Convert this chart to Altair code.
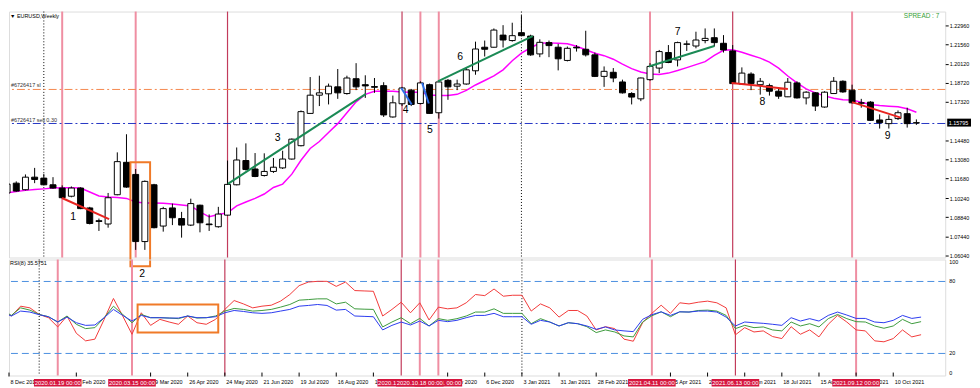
import altair as alt
import pandas as pd

# ---------------- data (EURUSD weekly, bars indexed from 8 Dec 2019) ----------------
opens = [1.1063, 1.1135, 1.1087, 1.1179, 1.1172, 1.1123, 1.1099, 1.1039, 1.1099, 1.0953,
         1.0859, 1.0835, 1.1050, 1.1288, 1.1199, 1.0706, 1.1123, 1.0820, 1.0953, 1.0875,
         1.0827, 1.0973, 1.0835, 1.0815, 1.0900, 1.1123, 1.1301, 1.1239, 1.1191, 1.1221,
         1.1247, 1.1312, 1.1410, 1.1647, 1.1781, 1.1791, 1.1842, 1.1793, 1.1902, 1.1858,
         1.1844, 1.1851, 1.1621, 1.1718, 1.1818, 1.1720, 1.1858, 1.1652, 1.1890, 1.1847,
         1.1863, 1.1960, 1.2133, 1.2133, 1.2222, 1.2182, 1.2240, 1.2215, 1.2084, 1.2167,
         1.2133, 1.2036, 1.2133, 1.2118, 1.2077, 1.1919, 1.1949, 1.1878, 1.1793, 1.1754,
         1.1895, 1.1980, 1.2094, 1.2040, 1.2157, 1.2142, 1.2182, 1.2203, 1.2162, 1.2106,
         1.1863, 1.1936, 1.1858, 1.1851, 1.1810, 1.1769, 1.1871, 1.1761, 1.1798, 1.1694,
         1.1793, 1.1883, 1.1818, 1.1725, 1.1730, 1.1599, 1.1572, 1.1609, 1.1645, 1.1576]
highs = [1.1201, 1.1148, 1.1199, 1.1247, 1.1203, 1.1179, 1.1119, 1.1111, 1.1104, 1.0961,
         1.0875, 1.1063, 1.1361, 1.1494, 1.1239, 1.1155, 1.1130, 1.0961, 1.0985, 1.0924,
         1.1021, 1.0977, 1.0905, 1.0961, 1.1301, 1.1397, 1.1427, 1.1356, 1.1354, 1.1320,
         1.1373, 1.1463, 1.1669, 1.1914, 1.1924, 1.1866, 1.1973, 1.1924, 1.2016, 1.1927,
         1.1907, 1.1876, 1.1778, 1.1842, 1.1827, 1.1883, 1.1866, 1.1883, 1.1900, 1.1895,
         1.1985, 1.2174, 1.2182, 1.2271, 1.2295, 1.2313, 1.2368, 1.2225, 1.2191, 1.2182,
         1.2157, 1.2138, 1.2149, 1.2254, 1.2094, 1.1992, 1.1980, 1.1895, 1.1803, 1.1910,
         1.2016, 1.2113, 1.2149, 1.2174, 1.2182, 1.2247, 1.2271, 1.2271, 1.2222, 1.2149,
         1.1985, 1.1949, 1.1907, 1.1866, 1.1827, 1.1907, 1.1883, 1.1810, 1.1803, 1.1810,
         1.1914, 1.1890, 1.1858, 1.1754, 1.1737, 1.1640, 1.1633, 1.1669, 1.1689, 1.1603]
lows = [1.1048, 1.1072, 1.1082, 1.1135, 1.1119, 1.1094, 1.1024, 1.1031, 1.0944, 1.0832,
        1.0784, 1.0808, 1.1046, 1.1101, 1.0645, 1.0645, 1.0803, 1.0779, 1.0827, 1.0735,
        1.0820, 1.0774, 1.0784, 1.0808, 1.0895, 1.1119, 1.1228, 1.1179, 1.1184, 1.1210,
        1.1239, 1.1308, 1.1405, 1.1645, 1.1701, 1.1713, 1.1754, 1.1785, 1.1818, 1.1761,
        1.1798, 1.1621, 1.1616, 1.1701, 1.1701, 1.1713, 1.1645, 1.1609, 1.1747, 1.1818,
        1.1858, 1.1931, 1.2065, 1.2131, 1.2131, 1.2174, 1.2215, 1.2070, 1.2060, 1.2060,
        1.1963, 1.2029, 1.2101, 1.2065, 1.1914, 1.1842, 1.1876, 1.1793, 1.1713, 1.1737,
        1.1887, 1.1943, 1.2016, 1.1992, 1.2106, 1.2125, 1.2162, 1.2138, 1.2094, 1.1863,
        1.1858, 1.1818, 1.1785, 1.1778, 1.1754, 1.1767, 1.1756, 1.1713, 1.1665, 1.1689,
        1.1791, 1.1798, 1.1720, 1.1689, 1.1592, 1.1536, 1.1536, 1.1599, 1.1543, 1.1563]
closes = [1.1128, 1.1077, 1.1179, 1.1162, 1.1123, 1.1099, 1.1028, 1.1099, 1.0948, 1.0839,
          1.0854, 1.1028, 1.1293, 1.1106, 1.0706, 1.1148, 1.0808, 1.0948, 1.0881, 1.0827,
          1.0985, 1.0844, 1.0830, 1.0908, 1.1126, 1.1305, 1.1235, 1.1184, 1.1221, 1.1252,
          1.1312, 1.1458, 1.1660, 1.1781, 1.1798, 1.1847, 1.1798, 1.1907, 1.1842, 1.1849,
          1.1839, 1.1636, 1.1725, 1.1834, 1.1713, 1.1871, 1.1647, 1.1878, 1.1842, 1.1863,
          1.1967, 1.2120, 1.2118, 1.2259, 1.2186, 1.2218, 1.2218, 1.2077, 1.2169, 1.2145,
          1.2048, 1.2125, 1.2128, 1.2077, 1.1919, 1.1956, 1.1907, 1.1798, 1.1767, 1.1907,
          1.1992, 1.2101, 1.2021, 1.2167, 1.2155, 1.2186, 1.2198, 1.2167, 1.2113, 1.1866,
          1.1943, 1.1866, 1.1883, 1.1810, 1.1774, 1.1876, 1.1761, 1.1803, 1.1701, 1.1803,
          1.1883, 1.1805, 1.1725, 1.1722, 1.1596, 1.1579, 1.1603, 1.1652, 1.1572, 1.15795]
ma_line = [1.1063, 1.1073, 1.1082, 1.1088, 1.1093, 1.1099, 1.1101, 1.1101, 1.1099, 1.1070,
           1.1041, 1.1033, 1.1030, 1.1023, 1.0997, 1.0990, 1.0990, 1.0988, 1.0982, 1.0975,
           1.0968, 1.0924, 1.0888, 1.0905, 1.0917, 1.0968, 1.0997, 1.1023, 1.1055, 1.1103,
           1.1128, 1.1201, 1.1303, 1.1390, 1.1441, 1.1507, 1.1572, 1.1652, 1.1732, 1.1787,
           1.1810, 1.1810, 1.1809, 1.1805, 1.1803, 1.1803, 1.1783, 1.1778, 1.1778, 1.1787,
           1.1816, 1.1856, 1.1889, 1.1922, 1.1967, 1.2034, 1.2089, 1.2129, 1.2162, 1.2165,
           1.2162, 1.2158, 1.2140, 1.2115, 1.2089, 1.2071, 1.2045, 1.2009, 1.1976, 1.1951,
           1.1936, 1.1933, 1.1943, 1.1962, 1.1983, 1.2005, 1.2027, 1.2074, 1.2111, 1.2115,
           1.2096, 1.2074, 1.2053, 1.2024, 1.1980, 1.1922, 1.1871, 1.1827, 1.1798, 1.1776,
           1.1758, 1.1748, 1.1745, 1.1729, 1.1713, 1.1705, 1.1700, 1.1696, 1.1681, 1.1656]
rsi_red = [55.8, 51.2, 59.4, 58.0, 52.5, 49.8, 42.1, 51.2, 36.8, 30.5,
           31.9, 48.4, 65.8, 51.2, 36.0, 53.9, 43.4, 48.4, 46.2, 44.3,
           51.2, 45.6, 44.3, 48.4, 56.7, 64.1, 61.3, 58.0, 59.4, 60.2,
           63.6, 69.1, 76.5, 79.5, 80.1, 80.1, 75.9, 79.5, 72.4, 72.1,
           71.8, 51.2, 56.7, 62.7, 53.9, 62.2, 47.9, 58.6, 57.2, 58.0,
           62.2, 69.1, 68.2, 73.7, 67.7, 68.5, 68.5, 55.3, 61.3, 58.0,
           50.3, 55.8, 55.8, 51.2, 39.6, 42.3, 40.7, 31.9, 30.2, 45.6,
           53.4, 60.2, 53.4, 62.2, 61.3, 62.7, 63.6, 62.2, 58.0, 35.5,
           41.5, 37.9, 38.8, 34.1, 32.4, 42.3, 36.0, 39.6, 33.8, 44.3,
           51.7, 46.2, 39.6, 38.8, 30.5, 29.7, 32.4, 39.6, 33.8, 35.6]
rsi_green = [56.7, 51.7, 58.0, 56.1, 52.5, 50.6, 46.2, 51.2, 44.3, 40.7,
             41.5, 49.8, 59.4, 52.5, 45.6, 52.5, 49.8, 49.8, 49.5, 49.0,
             51.2, 49.5, 49.8, 51.2, 55.3, 57.5, 56.7, 55.3, 55.8, 56.7,
             58.6, 60.8, 64.4, 64.9, 65.5, 65.5, 61.3, 62.7, 57.2, 56.9,
             56.7, 42.1, 46.2, 49.8, 44.8, 49.2, 42.9, 49.0, 47.6, 49.0,
             51.2, 54.5, 54.5, 57.2, 53.4, 53.4, 53.4, 44.8, 49.0, 46.2,
             42.9, 45.6, 44.8, 42.3, 37.4, 39.6, 37.9, 34.6, 33.8, 46.2,
             51.4, 54.7, 50.6, 54.7, 54.5, 55.8, 56.1, 55.3, 51.7, 40.7,
             43.4, 41.5, 42.1, 39.6, 38.8, 46.2, 42.9, 44.8, 42.1, 49.0,
             52.5, 49.0, 46.5, 46.2, 42.9, 41.0, 42.9, 48.4, 44.8, 46.5]
rsi_blue = [54.5, 51.2, 55.3, 54.5, 52.3, 50.6, 46.2, 50.3, 45.6, 43.4,
            43.7, 49.8, 56.7, 51.7, 47.0, 51.7, 49.8, 49.8, 49.5, 49.5,
            51.2, 49.8, 49.8, 50.6, 53.9, 55.8, 55.0, 53.9, 53.4, 53.9,
            55.3, 56.7, 59.4, 60.0, 60.8, 60.0, 56.1, 56.7, 51.2, 50.9,
            50.6, 39.6, 43.4, 46.2, 43.7, 47.0, 42.9, 47.6, 46.5, 47.6,
            49.8, 51.7, 51.7, 53.4, 50.6, 50.6, 50.6, 44.3, 47.6, 46.2,
            42.9, 45.6, 44.8, 42.9, 40.1, 42.1, 39.6, 38.8, 38.2, 48.4,
            52.3, 54.7, 51.7, 54.7, 54.5, 55.3, 55.3, 54.5, 50.3, 42.9,
            46.2, 45.6, 45.1, 44.3, 43.4, 49.8, 47.0, 49.0, 47.0, 51.7,
            54.5, 52.0, 49.2, 49.2, 46.2, 45.6, 47.6, 51.7, 49.2, 50.3]

date_idx = list(range(0, 100, 4))
date_labels = ["8 Dec 2019", "5 Jan 2020", "2 Feb 2020", "1 Mar 2020", "29 Mar 2020",
               "26 Apr 2020", "24 May 2020", "21 Jun 2020", "19 Jul 2020", "16 Aug 2020",
               "13 Sep 2020", "11 Oct 2020", "8 Nov 2020", "6 Dec 2020", "3 Jan 2021",
               "31 Jan 2021", "28 Feb 2021", "28 Mar 2021", "25 Apr 2021", "23 May 2021",
               "20 Jun 2021", "18 Jul 2021", "15 Aug 2021", "12 Sep 2021", "10 Oct 2021"]
# date labels completely hidden behind the red vertical-line labels in the reference
date_hidden = [4, 12, 44, 68]
price_ticks = [1.2296, 1.2156, 1.2012, 1.1872, 1.1732, 1.1448, 1.1308, 1.1168,
               1.1024, 1.0884, 1.0744, 1.0604]
current_price = 1.15795

event_idx = [6, 14, 24, 43, 45, 47, 70, 79, 92]
event_kind = ["light", "light", "dark", "dark", "light", "light", "light", "dark", "light"]
event_text = ["2020.01.19 00:00", "2020.03.15 00:00", "", "2020.10.04 00:00",
              "2020.10.18 00:00", "2020.11.01 00:00", "2021.04.11 00:00",
              "2021.06.13 00:00", "2021.09.12 00:00"]
event_label_order = [6, 14, 43, 47, 45, 70, 79, 92]
separator_idx = [4, 56]

order_prices = [1.1823, 1.1573]
order_texts = ["#6726417 sl", "#6726417 sell 0.30"]
order_colors = ["#f5874d", "#2536c4"]

tl_i1 = [5.98, 24.04, 42.92, 45.19, 46.9, 69.87, 78.88, 91.99]
tl_p1 = [1.1026, 1.1130, 1.1834, 1.1871, 1.1883, 1.1992, 1.1871, 1.1730]
tl_i2 = [11.11, 39.07, 44.05, 45.91, 57.23, 77.0, 85.01, 97.3]
tl_p2 = [1.0871, 1.1791, 1.1713, 1.1720, 1.2215, 1.2142, 1.1827, 1.1616]
tl_col = ["#e8231f", "#1b8a55", "#2f6fe8", "#2f6fe8", "#1b8a55", "#1b8a55", "#e8231f", "#e8231f"]

num_text = ["1", "3", "4", "5", "6", "7", "8", "9"]
num_i = [7.19, 29.45, 43.4, 46.03, 49.33, 73.0, 82.23, 95.87]
num_p = [1.0888, 1.1465, 1.1670, 1.1525, 1.2058, 1.2247, 1.1730, 1.1483]

box_main = {"i1": 13.43, "i2": 15.57, "p1": 1.1288, "p2": 1.0524}
box_rsi = {"i1": 14.6, "i2": 23.29, "r1": 60.8, "r2": 37.4}
label2 = {"i": 15.1, "r": 85.9}

# ---------------- layout / styles ----------------
W, H_MAIN, H_RSI = 944, 248, 117
X_DOM = [0.748, 101.6]
P_DOM = [1.0589, 1.2395]
R_DOM = [1.6, 98.3]
FONT = "Liberation Sans"
PINK, DARK = "#ef8ea2", "#c23b5b"
ORANGE = "#f07a28"
LABEL_RED = "#d6163f"

xs = alt.Scale(domain=X_DOM, nice=False, zero=False)
ps = alt.Scale(domain=P_DOM, nice=False, zero=False)
rs = alt.Scale(domain=R_DOM, nice=False, zero=False)
price_axis = alt.Axis(orient="right", values=price_ticks, format=".5f", labelFontSize=5.5,
                      labelFont=FONT, labelColor="#000000", tickSize=3, tickColor="#000000",
                      domain=False, grid=False, title=None, labelPadding=1)


def X(f):
    return alt.X(f"{f}:Q", scale=xs, axis=None)


def PY(f):
    return alt.Y(f"{f}:Q", scale=ps, axis=price_axis)


def RY(f):
    return alt.Y(f"{f}:Q", scale=rs, axis=None)


n = len(opens)
cdf = pd.DataFrame({"i": list(range(n)), "o": opens, "h": highs, "l": lows, "c": closes,
                    "ma": ma_line, "r1": rsi_red, "r2": rsi_green, "r3": rsi_blue})
cdf["fillc"] = ["#ffffff" if c >= o else "#000000" for o, c in zip(opens, closes)]

ev = pd.DataFrame({"i": event_idx, "kind": event_kind, "t": event_text})
sep = pd.DataFrame({"i": separator_idx})


def vlines():
    return [
        alt.Chart(ev[ev.kind == "light"]).mark_rule(color=PINK, strokeWidth=2).encode(x=X("i")),
        alt.Chart(ev[ev.kind == "dark"]).mark_rule(color=DARK, strokeWidth=1.2).encode(x=X("i")),
        alt.Chart(sep).mark_rule(color="#000000", strokeWidth=1, strokeDash=[1, 2]).encode(x=X("i")),
    ]


# ---------------- main (price) panel ----------------
odf = pd.DataFrame({"p": order_prices, "t": order_texts, "col": order_colors})
tldf = pd.DataFrame({"i1": tl_i1, "p1": tl_p1, "i2": tl_i2, "p2": tl_p2, "col": tl_col})
numdf = pd.DataFrame({"i": num_i, "p": num_p, "t": num_text})
bmdf = pd.DataFrame([box_main])
pp = (P_DOM[1] - P_DOM[0]) / H_MAIN
curdf = pd.DataFrame({"p": [current_price], "top": [current_price + 4 * pp],
                      "bot": [current_price - 4 * pp], "t": [f"{current_price:.5f}"]})

main_layers = vlines() + [
    alt.Chart(odf).mark_rule(strokeWidth=1, strokeDash=[8, 3, 2, 3]).encode(
        y=PY("p"), color=alt.Color("col:N", scale=None)),
    alt.Chart(odf).mark_text(align="left", baseline="bottom", dy=-1, fontSize=5.5, color="#333333").encode(
        x=alt.value(2), y=PY("p"), text="t:N"),
    alt.Chart(cdf).mark_line(color="#ff00ff", strokeWidth=1.5, clip=True).encode(x=X("i"), y=PY("ma")),
    alt.Chart(cdf).mark_rule(color="#000000", strokeWidth=1, clip=True).encode(x=X("i"), y=PY("l"), y2="h"),
    alt.Chart(cdf).mark_bar(width=6, stroke="#000000", strokeWidth=1, clip=True).encode(
        x=X("i"), y=PY("o"), y2="c", fill=alt.Fill("fillc:N", scale=None)),
    alt.Chart(tldf).mark_rule(strokeWidth=2).encode(
        x=X("i1"), x2="i2", y=PY("p1"), y2="p2", color=alt.Color("col:N", scale=None)),
    alt.Chart(numdf).mark_text(fontSize=10.5, color="#000000", baseline="middle").encode(
        x=X("i"), y=PY("p"), text="t:N"),
    alt.Chart(bmdf).mark_rect(fill="transparent", stroke=ORANGE, strokeWidth=2).encode(
        x=X("i1"), x2="i2", y=PY("p1"), y2="p2"),
    alt.Chart(pd.DataFrame({"t": ["▼ EURUSD,Weekly"]})).mark_text(
        align="left", baseline="middle", fontSize=5.5, color="#000000").encode(
        x=alt.value(1), y=alt.value(4), text="t:N"),
    alt.Chart(pd.DataFrame({"t": ["SPREAD : 7"]})).mark_text(
        align="right", baseline="middle", fontSize=6.5, color="#33a033").encode(
        x=alt.value(938), y=alt.value(4), text="t:N"),
    alt.Chart(curdf).mark_rect(color="#000000").encode(
        x=alt.value(W + 2), x2=alt.value(W + 26), y=PY("top"), y2="bot"),
    alt.Chart(curdf).mark_text(align="left", baseline="middle", fontSize=5.5, color="#ffffff").encode(
        x=alt.value(W + 3.5), y=PY("p"), text="t:N"),
]
main = alt.layer(*main_layers).properties(width=W, height=H_MAIN)

# ---------------- RSI panel ----------------
lvl = pd.DataFrame({"v": [80, 20], "t": ["80", "20"]})
brdf = pd.DataFrame([box_rsi])
l2df = pd.DataFrame({"i": [label2["i"]], "r": [label2["r"]], "t": ["2"]})
ddf = pd.DataFrame({"i": [max(v, X_DOM[0]) for v in date_idx], "t": date_labels,
                    "show": [v not in date_hidden for v in date_idx]})
ddf = ddf[ddf.show].drop(columns="show")

rsi_layers = vlines() + [
    alt.Chart(lvl).mark_rule(color="#4a8fe0", strokeWidth=1, strokeDash=[7, 4]).encode(y=RY("v")),
    alt.Chart(cdf).mark_line(color="#f23a3a", strokeWidth=1, clip=True).encode(x=X("i"), y=RY("r1")),
    alt.Chart(cdf).mark_line(color="#3c9a3c", strokeWidth=1, clip=True).encode(x=X("i"), y=RY("r2")),
    alt.Chart(cdf).mark_line(color="#2b3bef", strokeWidth=1, clip=True).encode(x=X("i"), y=RY("r3")),
    alt.Chart(brdf).mark_rect(fill="transparent", stroke=ORANGE, strokeWidth=2).encode(
        x=X("i1"), x2="i2", y=RY("r1"), y2="r2"),
    alt.Chart(l2df).mark_text(fontSize=10.5, color="#000000", baseline="middle").encode(
        x=X("i"), y=RY("r"), text="t:N"),
    alt.Chart(pd.DataFrame({"t": ["RSI(8) 35.5751"]})).mark_text(
        align="left", baseline="middle", fontSize=5.5, color="#000000").encode(
        x=alt.value(1), y=alt.value(3.5), text="t:N"),
    alt.Chart(lvl).mark_text(align="left", baseline="middle", fontSize=5.5, color="#000000").encode(
        x=alt.value(W + 4), y=RY("v"), text="t:N"),
    alt.Chart(pd.DataFrame({"t": ["100"]})).mark_text(
        align="left", baseline="middle", fontSize=5.5, color="#000000").encode(
        x=alt.value(W + 4), y=alt.value(2.5), text="t:N"),
    alt.Chart(pd.DataFrame({"t": ["0"]})).mark_text(
        align="left", baseline="middle", fontSize=5.5, color="#000000").encode(
        x=alt.value(W + 4), y=alt.value(H_RSI - 3), text="t:N"),
    alt.Chart(ddf).mark_rule(color="#000000", strokeWidth=1).encode(
        x=X("i"), y=alt.value(H_RSI - 3), y2=alt.value(H_RSI + 1)),
    alt.Chart(ddf).mark_text(align="left", baseline="middle", fontSize=5.5, dx=1.5, color="#000000").encode(
        x=X("i"), y=alt.value(H_RSI + 7), text="t:N"),
]

hw = 24 / (W / (X_DOM[1] - X_DOM[0]))
for k in event_label_order:
    txt = event_text[event_idx.index(k)]
    d = pd.DataFrame({"i": [k], "a": [k - hw], "b": [k + hw], "t": [txt]})
    rsi_layers.append(alt.Chart(d).mark_rect(color=LABEL_RED).encode(
        x=X("a"), x2="b", y=alt.value(H_RSI + 3.5), y2=alt.value(H_RSI + 11)))
    rsi_layers.append(alt.Chart(d).mark_text(color="#ffffff", fontSize=6, baseline="middle").encode(
        x=X("i"), y=alt.value(H_RSI + 7.3), text="t:N"))

rsi = alt.layer(*rsi_layers).properties(width=W, height=H_RSI)

chart = (
    alt.vconcat(main, rsi, spacing=2, bounds="flush")
    .properties(padding=0, background="#ffffff")
    .configure_view(stroke="#404040", strokeWidth=1)
    .configure(font=FONT)
)

chart.save("out.html", embed_options={"renderer": "svg", "actions": False})
